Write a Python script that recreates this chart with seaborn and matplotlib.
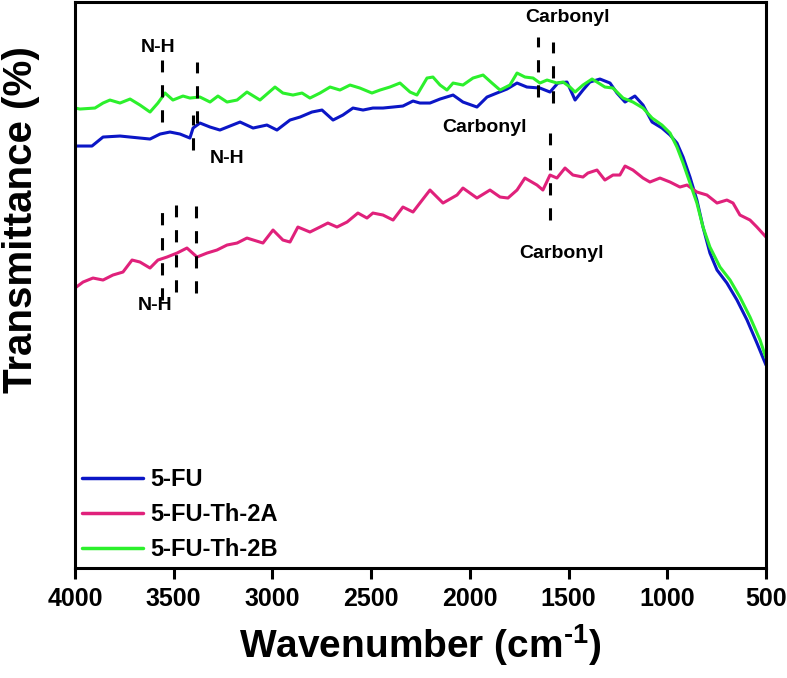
"""FTIR spectra of 5-FU and the two Th-2 formulations."""
import numpy as np
import pandas as pd
import matplotlib
matplotlib.use("Agg")
import matplotlib.pyplot as plt
import seaborn as sns

# wavenumber (cm-1) and relative transmittance (arbitrary units)
fu_wn = [4000, 3914, 3858, 3772, 3671, 3620, 3569, 3519, 3468, 3418, 3402, 3367,
         3316, 3266, 3215, 3164, 3098, 3028, 2977, 2911, 2860, 2800, 2749, 2693,
         2643, 2592, 2541, 2491, 2440, 2389, 2339, 2288, 2253, 2202, 2151, 2085,
         2035, 1964, 1913, 1863, 1812, 1761, 1711, 1645, 1594, 1554, 1508, 1467,
         1427, 1392, 1341, 1290, 1255, 1214, 1164, 1123, 1077, 1027, 986, 951,
         920, 885, 850, 819, 784, 748, 698, 647, 596, 546, 500]
fu_t = [422, 422, 431, 432, 430, 429, 434, 436, 434, 430, 440, 445,
        441, 438, 442, 446, 440, 443, 438, 448, 451, 456, 458, 448,
        453, 460, 458, 460, 460, 461, 462, 467, 465, 465, 469, 473,
        466, 461, 471, 475, 479, 485, 481, 480, 476, 485, 486, 468,
        478, 486, 489, 485, 475, 466, 472, 463, 446, 440, 433, 425,
        411, 391, 368, 341, 315, 298, 285, 268, 248, 225, 203]

th2a_wn = [4000, 3959, 3909, 3858, 3808, 3757, 3711, 3671, 3620, 3580, 3534, 3483,
           3433, 3382, 3331, 3281, 3230, 3179, 3129, 3048, 2997, 2947, 2911, 2871,
           2810, 2759, 2719, 2673, 2622, 2567, 2521, 2491, 2440, 2389, 2339, 2288,
           2253, 2202, 2136, 2065, 2035, 1964, 1898, 1847, 1807, 1761, 1721, 1660,
           1630, 1594, 1559, 1518, 1478, 1427, 1402, 1356, 1316, 1275, 1240, 1214,
           1174, 1123, 1088, 1037, 986, 936, 900, 850, 799, 748, 698, 667,
           632, 581, 546, 500]
th2a_t = [280, 286, 290, 288, 293, 296, 308, 306, 300, 308, 311, 315,
          320, 311, 315, 318, 323, 325, 330, 325, 338, 328, 326, 341,
          336, 341, 345, 341, 346, 355, 350, 355, 353, 348, 361, 356,
          365, 378, 365, 373, 380, 370, 378, 371, 370, 378, 390, 383,
          378, 393, 390, 400, 393, 391, 395, 398, 388, 393, 393, 402,
          398, 390, 386, 390, 386, 381, 383, 376, 373, 365, 368, 365,
          353, 348, 341, 331]

th2b_wn = [4000, 3975, 3899, 3858, 3823, 3772, 3721, 3671, 3620, 3580, 3544, 3504,
           3453, 3418, 3367, 3316, 3276, 3230, 3179, 3129, 3063, 2987, 2947, 2896,
           2850, 2810, 2759, 2708, 2658, 2607, 2557, 2496, 2455, 2405, 2354, 2303,
           2268, 2217, 2187, 2151, 2116, 2085, 2035, 1984, 1933, 1888, 1847, 1797,
           1761, 1721, 1680, 1645, 1609, 1559, 1528, 1493, 1467, 1427, 1381, 1356,
           1316, 1275, 1224, 1174, 1123, 1077, 1027, 986, 951, 920, 885, 850,
           819, 784, 733, 682, 632, 581, 530, 500]
th2b_t = [460, 459, 460, 465, 468, 465, 469, 463, 456, 465, 475, 468,
          472, 470, 471, 466, 472, 466, 468, 476, 468, 481, 475, 473,
          475, 470, 475, 481, 478, 483, 480, 475, 478, 481, 485, 476,
          473, 490, 491, 483, 478, 485, 483, 490, 493, 485, 478, 483,
          495, 491, 490, 485, 488, 485, 486, 481, 476, 483, 489, 486,
          481, 480, 470, 466, 460, 450, 443, 435, 421, 405, 385, 365,
          341, 321, 301, 288, 271, 251, 228, 210]

series_names = ["5-FU", "5-FU-Th-2A", "5-FU-Th-2B"]
series_colors = ["#0b16c6", "#e0217b", "#2cf02c"]

# peak markers: (wavenumber, y from, y to)
marker_lines = [
    (3560, 446, 508), (3380, 445, 506),          # N-H, 5-FU-Th-2B
    (3400, 418, 453),                            # N-H, 5-FU
    (1655, 471, 531), (1580, 465, 526),          # carbonyl, top pair
    (1594, 348, 435),                            # carbonyl, 5-FU-Th-2A
    (3560, 268, 358), (3490, 276, 363), (3387, 275, 362),  # N-H, 5-FU-Th-2A
]
marker_labels = [
    ("N-H", 3580, 521), ("N-H", 3230, 410),
    ("Carbonyl", 1503, 551), ("Carbonyl", 1928, 441),
    ("Carbonyl", 1538, 315), ("N-H", 3595, 263),
]

frames = []
for name, wn, t in zip(series_names, [fu_wn, th2a_wn, th2b_wn], [fu_t, th2a_t, th2b_t]):
    frames.append(pd.DataFrame({"wn": wn, "t": t, "sample": name}))
df = pd.concat(frames, ignore_index=True)

sns.set_style("ticks")
plt.rcParams["font.family"] = ["Liberation Sans", "DejaVu Sans"]
plt.rcParams["font.weight"] = "bold"
plt.rcParams["text.color"] = "black"
plt.rcParams["axes.labelcolor"] = "black"
plt.rcParams["xtick.color"] = "black"
plt.rcParams["axes.edgecolor"] = "black"
plt.rcParams["mathtext.fontset"] = "custom"
plt.rcParams["mathtext.rm"] = "Liberation Sans:bold"
plt.rcParams["mathtext.bf"] = "Liberation Sans:bold"

fig = plt.figure(figsize=(7.87, 6.78), dpi=100)
ax = fig.add_axes([0.0953, 0.1622, 0.8780, 0.8348])

sns.lineplot(data=df, x="wn", y="t", hue="sample", hue_order=series_names,
             palette=dict(zip(series_names, series_colors)), estimator=None,
             sort=True, linewidth=2.2, ax=ax)

for x, y0, y1 in marker_lines:
    ax.plot([x, x], [y0, y1], color="black", linewidth=2.2,
            linestyle=(0, (4, 4.2)), solid_capstyle="butt")
for txt, x, y in marker_labels:
    ax.text(x, y, txt, ha="center", va="center", fontsize=14, fontweight="bold",
            color="black")

ax.set_xlim(4000, 500)
ax.set_ylim(0, 566)
ax.set_xticks([4000, 3500, 3000, 2500, 2000, 1500, 1000, 500])
ax.set_yticks([])
ax.tick_params(axis="x", direction="out", length=8, width=2.2, labelsize=18, pad=6,
               colors="black")
for lab in ax.get_xticklabels():
    lab.set_fontweight("bold")
for sp in ax.spines.values():
    sp.set_linewidth(2.2)
    sp.set_visible(True)
    sp.set_color("black")

ax.set_xlabel("Wavenumber (cm$^{\\text{-1}}$)", fontsize=28, fontweight="bold", labelpad=8)
ax.set_ylabel("Transmittance (%)", fontsize=29, fontweight="bold")
ax.yaxis.set_label_coords(-0.050, 0.615)

leg = ax.legend(loc="lower left", bbox_to_anchor=(0.0, 0.0), frameon=False,
                fontsize=17, handlelength=2.6, handletextpad=0.3,
                labelspacing=0.5, borderaxespad=0.1, borderpad=0.2)
for h in leg.get_lines():
    h.set_linewidth(2.5)
for t in leg.get_texts():
    t.set_fontweight("bold")
    t.set_color("black")

fig.savefig("out.png", dpi=100)
